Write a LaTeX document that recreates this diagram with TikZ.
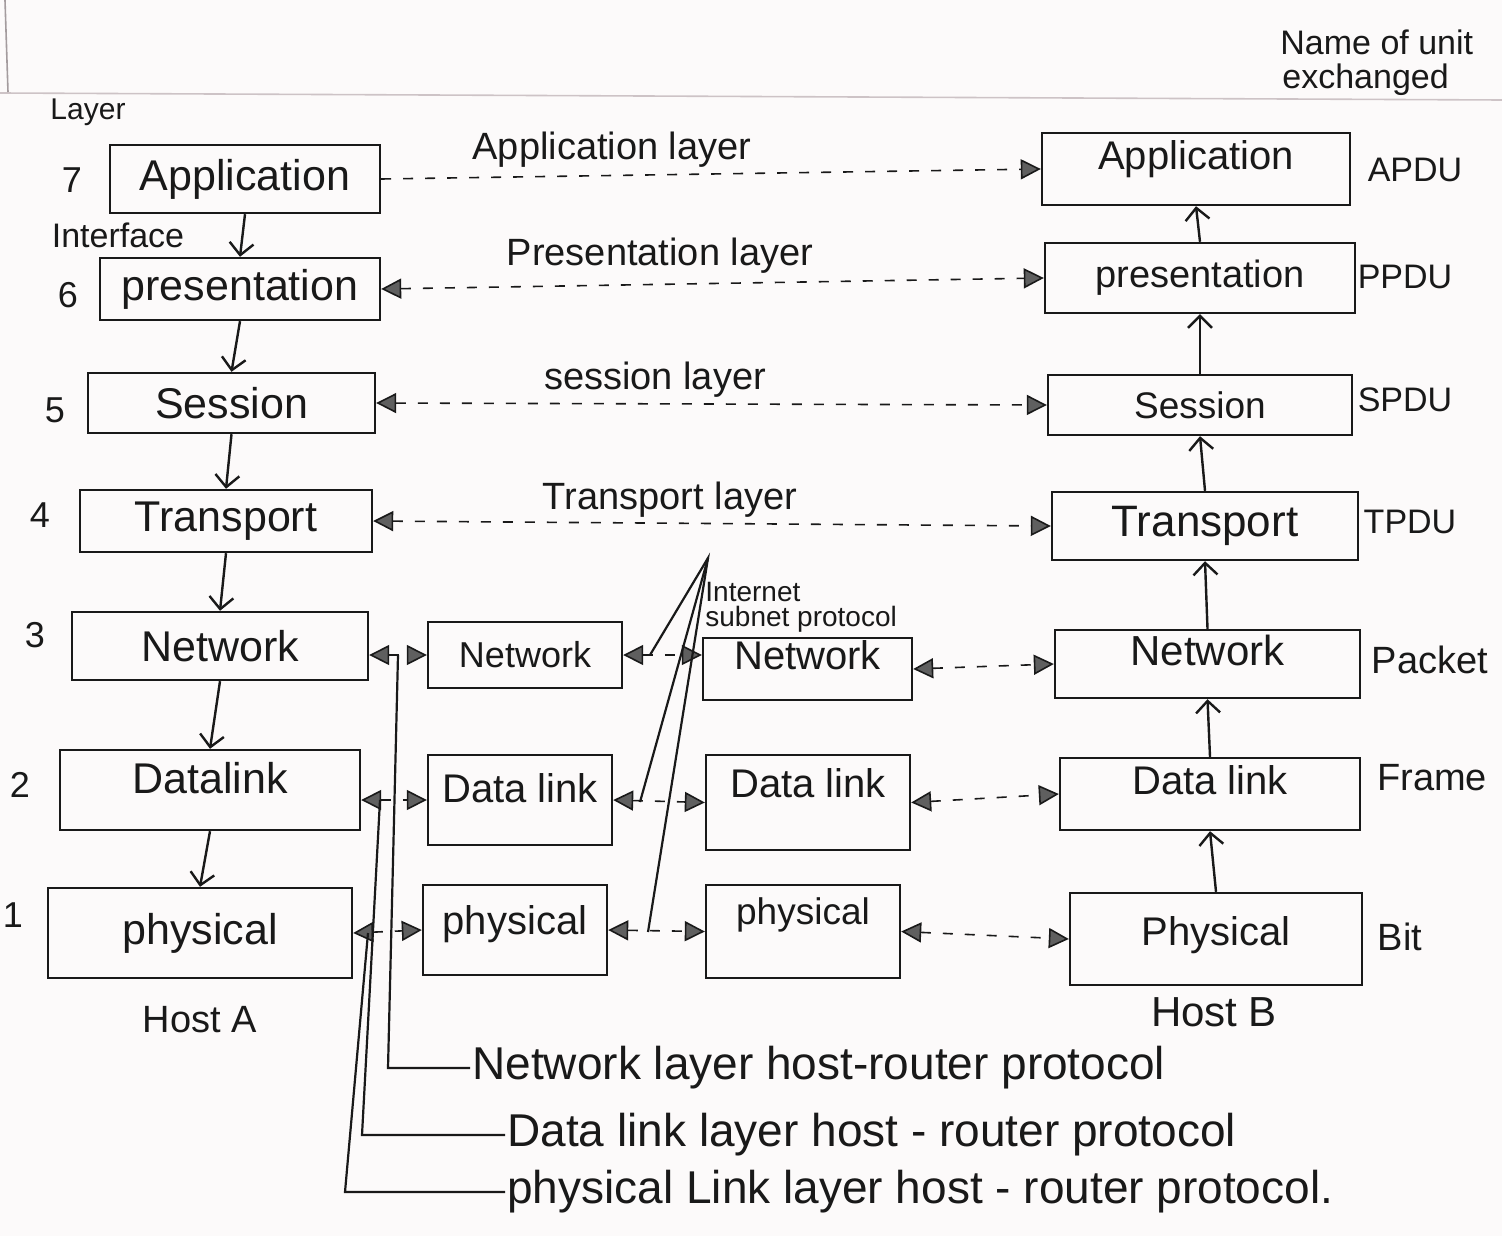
\documentclass[tikz,border=0pt]{standalone}
\usepackage{fontspec}
\setmainfont{Liberation Sans}
\usetikzlibrary{arrows.meta}
\definecolor{paper}{RGB}{252,250,250}
\definecolor{ink}{RGB}{25,25,25}
\definecolor{tipfill}{RGB}{95,95,95}
\definecolor{rulecol}{RGB}{205,195,198}
\begin{document}
\begin{tikzpicture}[x=0.5pt,y=-0.5pt,
  sz/.style n args={2}{minimum width=#1*0.5pt,minimum height=#2*0.5pt},
  fs/.style={font=\fontsize{#1}{#1}\selectfont},
  box/.style={draw=ink,line width=1.2pt,inner sep=0pt,text=ink,fs=20},
  bigbox/.style={box,fs=21.5},
  lift/.style={text depth=#1},
  lbl/.style={text=ink,inner sep=1pt,fs=17},
  prot/.style={text=ink,inner sep=1pt,fs=19},
  note/.style={text=ink,inner sep=1pt,fs=23,anchor=west},
  pr/.style={draw=ink,line width=0.8pt,dash pattern=on 5pt off 6pt},
  one/.style={-{Triangle[length=10pt,width=10pt,fill=tipfill]}},
  tw/.style={{Triangle[length=10pt,width=10pt,fill=tipfill]}-{Triangle[length=10pt,width=10pt,fill=tipfill]}},
  va/.style={draw=ink,line width=1.2pt,-{Straight Barb[length=6pt,width=12pt]}},
  sl/.style={draw=ink,line width=1.1pt}]

% paper and bounding box
\fill[paper] (0,0) rectangle (1502,1236);
\useasboundingbox (0,0) rectangle (1502,1236);
\draw[rulecol,line width=0.8pt] (0,93) -- (1502,100);
\draw[rulecol!80!black,line width=0.8pt] (5,0) -- (8,92);

% headings
\node[lbl,fs=15] (layer) at (88,112) {Layer};
\node[lbl] (iface) at (118,235) {Interface};
\node[lbl,inner sep=0pt,anchor=west] (unitname) at (1280,42) {Name of unit};
\node[lbl,inner sep=0pt,anchor=west] (unitname2) at (1282,80) {exchanged};

% layer numbers
\node[lbl,fs=18] (n7) at (72,180) {7};
\node[lbl,fs=18] (n6) at (68,295) {6};
\node[lbl,fs=18] (n5) at (55,410) {5};
\node[lbl,fs=18] (n4) at (40,515) {4};
\node[lbl,fs=18] (n3) at (35,635) {3};
\node[lbl,fs=18] (n2) at (20,785) {2};
\node[lbl,fs=18] (n1) at (13,915) {1};

% Host A
\node[bigbox,sz={270}{68}] (A7) at (245,179) {Application};
\node[bigbox,sz={280}{62}] (A6) at (240,289) {presentation};
\node[bigbox,sz={287}{60}] (A5) at (231.5,403) {Session};
\node[bigbox,sz={292}{62}] (A4) at (226,521) {Transport};
\node[bigbox,sz={296}{68}] (A3) at (220,646) {Network};
\node[bigbox,sz={300}{80},lift=12pt] (A2) at (210,790) {Datalink};
\node[bigbox,sz={304}{90}] (A1) at (200,933) {physical};
\node[lbl,fs=19] (hostA) at (200,1020) {Host A};

% Router 1
\node[box,sz={194}{66},fs=18] (R13) at (525,655) {Network};
\node[box,sz={184}{90},lift=12pt] (R12) at (520,800) {Data link};
\node[box,sz={184}{90},lift=10pt] (R11) at (515,930) {physical};

% Router 2
\node[box,sz={209}{62},lift=14pt] (R23) at (807.5,669) {Network};
\node[box,sz={204}{95},lift=20pt] (R22) at (808,802.5) {Data link};
\node[box,sz={194}{93},lift=20pt,fs=18.5] (R21) at (803,931.5) {physical};

% Host B
\node[box,sz={308}{72},lift=14pt] (B7) at (1196,169) {Application};
\node[box,sz={310}{70},fs=19] (B6) at (1200,278) {presentation};
\node[box,sz={304}{60},fs=18.5] (B5) at (1200,405) {Session};
\node[box,sz={306}{68},fs=22] (B4) at (1205,526) {Transport};
\node[box,sz={305}{68},lift=14pt,fs=21] (B3) at (1207.5,664) {Network};
\node[box,sz={300}{72},lift=14pt] (B2) at (1210,794) {Data link};
\node[box,sz={292}{92},lift=8pt] (B1) at (1216,939) {Physical};
\node[lbl,fs=21] (hostB) at (1214,1012) {Host B};

% units
\node[lbl] (u7) at (1415,170) {APDU};
\node[lbl] (u6) at (1405,277) {PPDU};
\node[lbl] (u5) at (1405,400) {SPDU};
\node[lbl] (u4) at (1410,522) {TPDU};
\node[lbl,fs=19] (u3) at (1430,660) {Packet};
\node[lbl,fs=19] (u2) at (1432,778) {Frame};
\node[lbl,fs=19] (u1) at (1400,937) {Bit};

% vertical interface arrows, host A (down)
\draw[va] (A7.south) -- (A6.north);
\draw[va] (A6.south) -- (A5.north);
\draw[va] (A5.south) -- (A4.north);
\draw[va] (A4.south) -- (A3.north);
\draw[va] (A3.south) -- (A2.north);
\draw[va] (A2.south) -- (A1.north);

% vertical arrows, host B (up)
\draw[va] (B6.north) -- (B7.south);
\draw[va] (B5.north) -- (B6.south);
\draw[va] (B4.north) -- (B5.south);
\draw[va] (B3.north) -- (B4.south);
\draw[va] (B2.north) -- (B3.south);
\draw[va] (B1.north) -- (B2.south);

% peer protocols
\draw[pr,one] (A7.east) -- (B7.west);
\draw[pr,tw] (A6.east) -- (B6.west);
\draw[pr,tw] (A5.east) -- (B5.west);
\draw[pr,tw] (A4.east) -- (B4.west);
\node[prot] (pl7) at (612,150) {Application layer};
\node[prot] (pl6) at (660,256) {Presentation layer};
\node[prot] (pl5) at (655,380) {session layer};
\node[prot] (pl4) at (670,500) {Transport layer};

\draw[pr,tw] (A3.east |- R13.west) -- (R13.west);
\draw[pr,tw] (R13.east) -- (R13.east -| R23.west);
\draw[pr,tw] (R23.east) -- (B3.west);
\draw[pr,tw] (A2.east |- R12.west) -- (R12.west);
\draw[pr,tw] (R12.east) -- (R22.west);
\draw[pr,tw] (R22.east) -- (B2.west);
\draw[pr,tw] (A1.east) -- (R11.west);
\draw[pr,tw] (R11.east) -- (R21.west);
\draw[pr,tw] (R21.east) -- (B1.west);

% internet subnet protocol
\node[text=ink,inner sep=0pt,anchor=west,align=left,font=\fontsize{14}{12.5}\selectfont] (isp) at (705,607) {Internet\\subnet protocol};
\coordinate (apex) at (708,558);
\coordinate (s3) at (650,655);
\coordinate (s2) at (640,802);
\coordinate (s1) at (648,932);
\draw[sl] (s3) -- (apex) -- (s1);
\draw[sl] (apex) -- (s2);

% host-router protocol notes
\node[note] (N) at (470,1068) {Network layer host-router protocol};
\node[note] (D) at (505,1135) {Data link layer host - router protocol};
\node[note] (P) at (505,1192) {physical Link layer host - router protocol.};
\coordinate (n0) at (398,655);
\coordinate (nb) at (388,1068);
\coordinate (d0) at (380,800);
\coordinate (db) at (362,1135);
\coordinate (p0) at (368,933);
\coordinate (pb) at (345,1192);
\draw[sl] (N.west) -- (nb) -- (n0);
\draw[sl] (D.west) -- (db) -- (d0);
\draw[sl] (P.west) -- (pb) -- (p0);
\end{tikzpicture}
\end{document}
